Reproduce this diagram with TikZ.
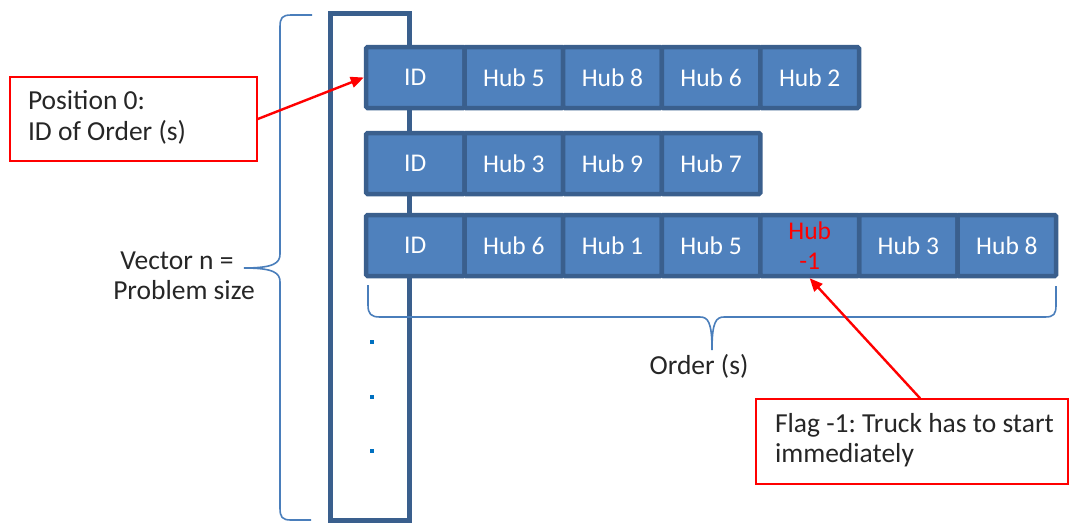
\documentclass[tikz,border=0pt]{standalone}
\usepackage{fontspec}
\setmainfont{Carlito}
\frenchspacing
\usetikzlibrary{arrows.meta}
\definecolor{cellfill}{HTML}{4F81BD}
\definecolor{cellborder}{HTML}{3A5F8D}
\definecolor{bracecol}{HTML}{4A7EBB}
\definecolor{dotcol}{HTML}{0070C0}
\definecolor{flagred}{HTML}{FF0000}
\newcommand{\calloutlines}[2]{\makebox[#1][l]{\begin{tabular}{@{}l@{}}#2\end{tabular}}}
\tikzset{
  cell/.style={draw=cellborder, fill=cellfill, line width=4.5pt, rounded corners=1.5pt,
    minimum width=98.6pt, minimum height=61pt, inner sep=0pt, text=white,
    font=\fontsize{25.5}{30}\selectfont, align=center},
  vecbox/.style={draw=cellborder, line width=5pt, minimum width=79pt, minimum height=506.5pt, inner sep=0pt},
  callout/.style={draw=flagred, line width=1.6pt, inner ysep=0pt,
    font=\fontsize{27.5}{30.5}\selectfont, text=black!85},
  plain/.style={align=center, font=\fontsize{27.5}{30}\selectfont, text=black!85, inner sep=0pt},
  bracestyle/.style={draw=bracecol, line width=1.6pt},
  redarrow/.style={draw=flagred, line width=2.4pt, -{Triangle[length=13pt,width=11pt]}},
  dotsq/.style={fill=dotcol, minimum size=3.5pt, inner sep=0pt}
}
\begin{document}
\begin{tikzpicture}[x=1pt,y=-1pt]
\useasboundingbox (0,0) rectangle (1076,523);
% tall vector box
\node[vecbox] (vec) at (370,266.75) {};
% left brace
\draw[bracestyle] (312,15) -- (291,15) .. controls (282,15) and (280,18) .. (280,27) -- (280,254)
  .. controls (280,263) and (274,268) .. (244,268)
  .. controls (274,268) and (280,273) .. (280,282) -- (280,508)
  .. controls (280,517) and (282,520) .. (291,520) -- (311,520);
% bottom brace
\draw[bracestyle] (368,285) -- (368,305) .. controls (368,314) and (371,317) .. (380,317) -- (700,317)
  .. controls (708,317) and (712,322) .. (712,350)
  .. controls (712,322) and (716,317) .. (724,317) -- (1045,317)
  .. controls (1054,317) and (1056,314) .. (1056,305) -- (1056,286);
% rows
\foreach \i/\t in {0/ID,1/Hub 5,2/Hub 8,3/Hub 6,4/Hub 2}
  \node[cell] (r1c\i) at (366+49.3+\i*98.6,77.5) {\t};
\foreach \i/\t in {0/ID,1/Hub 3,2/Hub 9,3/Hub 7}
  \node[cell] (r2c\i) at (366+49.3+\i*98.6,163.5) {\t};
\foreach \i/\t in {0/ID,1/Hub 6,2/Hub 1,3/Hub 5,5/Hub 3,6/Hub 8}
  \node[cell] (r3c\i) at (366+49.3+\i*98.6,245.5) {\t};
\node[cell, text=flagred] (r3c4) at (366+49.3+4*98.6,245.5) {Hub\\-1};
% dots
\node[dotsq] (d1) at (372,342) {};
\node[dotsq] (d2) at (372,397) {};
\node[dotsq] (d3) at (372,451) {};
% labels
\node[plain] (vlabel) at (184,276) {Vector n =\hspace*{14pt}\\Problem size};
\node[plain] (olabel) at (699,366) {Order (s)};
% callouts
\node[callout, inner xsep=18pt, minimum height=84pt] (b1) at (133.5,119)
  {\calloutlines{211pt}{Position 0:\\ID of Order (s)}};
\node[callout, inner xsep=19pt, minimum height=85pt] (b2) at (912,441.5)
  {\calloutlines{274pt}{Flag -1: Truck has to start\\immediately}};
% arrows
\draw[redarrow] (b1.east) -- (r1c0.west);
\draw[redarrow] ([xshift=8pt]b2.north) -- (r3c4.south);
\end{tikzpicture}
\end{document}
